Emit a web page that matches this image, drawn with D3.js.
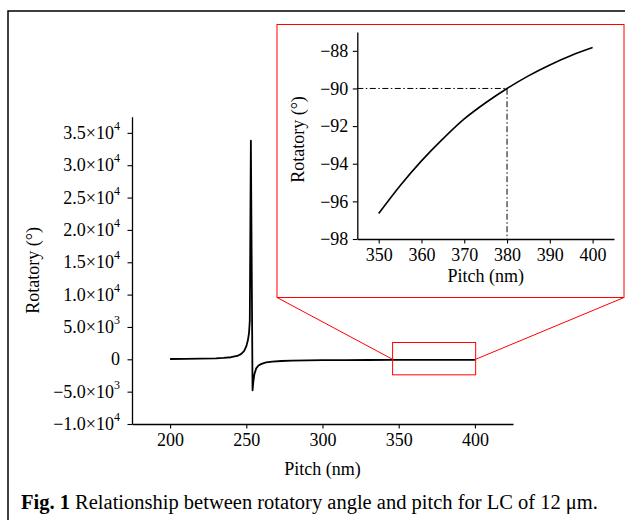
<!DOCTYPE html>
<html><head><meta charset="utf-8">
<script src="https://cdn.jsdelivr.net/npm/d3@7"></script>
<style>
html,body{margin:0;padding:0;background:#fff;}
svg{display:block;}
text{font-family:"Liberation Serif","Times New Roman",serif;fill:#000;}
</style></head>
<body>
<svg id="c" width="625" height="520"></svg>
<script>
// ---- data ----
const pitch = [200,210,220,230,235,240,244,246.5,248.5,250,251,251.8,252.3,253.0,254.1,254.6,255.3,256.5,258,260,263,267,273,280,290,300,315,330,345,350,360,370,380,390,400];
const rotatory = [45,60,90,150,210,320,520,800,1250,2000,2900,4100,6000,33800,-4800,-3500,-2300,-1400,-950,-700,-490,-360,-265,-210,-165,-140,-118,-105,-98.5,-96.6,-93.8,-91.6,-90.0,-88.7,-87.8];

const insetPitch = [350,355,360,365,370,375,380,385,390,395,400];
const insetRotatory = [-96.65,-95.17,-93.85,-92.68,-91.62,-90.76,-90.0,-89.33,-88.75,-88.25,-87.83];

const xTicks = [200,250,300,350,400];
const yTicks = [-10000,-5000,0,5000,10000,15000,20000,25000,30000,35000];
const yTickMant = ["\u22121.0\u00d710","\u22125.0\u00d710","0","5.0\u00d710","1.0\u00d710","1.5\u00d710","2.0\u00d710","2.5\u00d710","3.0\u00d710","3.5\u00d710"];
const yTickExp = ["4","3","","3","4","4","4","4","4","4"];

const insetXTicks = [350,360,370,380,390,400];
const insetYTicks = [-98,-96,-94,-92,-90,-88];

const zoomBox = {x0:346, x1:400.5, y0:-2400, y1:2600};
const markP = 380, markR = -90;

const xTitle = "Pitch (nm)";
const yTitle = "Rotatory (\u00b0)";
const captionBold = "Fig. 1";
const captionText = " Relationship between rotatory angle and pitch for LC of 12 \u03bcm.";

// ---- drawing ----
const svg = d3.select("#c");
const FS = 18;

// outer frame
svg.append("rect").attr("x",8).attr("y",11).attr("width",640).attr("height",540)
  .attr("fill","none").attr("stroke","#000").attr("stroke-width",1.5);

// main scales
const x = d3.scaleLinear().domain([175,425]).range([132,513]);
const y = d3.scaleLinear().domain([-10000,37500]).range([424,116.7]);

const gx = svg.append("g").attr("transform","translate(0,424)");
gx.call(d3.axisBottom(x).tickValues(d3.range(175,426,25).filter(v=>!xTicks.includes(v))).tickSize(3).tickSizeOuter(0).tickFormat(""));
gx.call(d3.axisBottom(x).tickValues(xTicks).tickSize(4.5).tickPadding(4.5).tickSizeOuter(0));
const gy = svg.append("g").attr("transform","translate(132,0)");
gy.call(d3.axisLeft(y).tickValues(d3.range(-10000,37501,2500).filter(v=>!yTicks.includes(v))).tickSize(3).tickSizeOuter(0).tickFormat(""));
gy.call(d3.axisLeft(y).tickValues(yTicks).tickSize(4.5).tickPadding(7.5).tickSizeOuter(0).tickFormat(""));

[gx,gy].forEach(g=>{
  g.selectAll(".domain").attr("stroke","#000").attr("stroke-width",1.3);
  g.selectAll(".tick line").attr("stroke","#000").attr("stroke-width",1.1);
  g.selectAll("text").attr("font-family","Liberation Serif").attr("font-size",FS).attr("fill","#000");
});

// y tick labels with superscripts
yTicks.forEach((v,i)=>{
  const t = svg.append("text").attr("x",120).attr("y",y(v)).attr("dy","0.33em")
    .attr("text-anchor","end").attr("font-size",FS);
  t.append("tspan").text(yTickMant[i]);
  if (yTickExp[i]) t.append("tspan").attr("font-size",12).attr("dy","-0.75em").text(yTickExp[i]);
});

// main curve
svg.append("path").datum(pitch.map((p,i)=>[p,rotatory[i]]))
  .attr("fill","none").attr("stroke","#000").attr("stroke-width",1.8).attr("stroke-linejoin","round")
  .attr("d", d3.line().x(d=>x(d[0])).y(d=>y(d[1])));

// titles
svg.append("text").attr("x",(x.range()[0]+x.range()[1])/2).attr("y",475).attr("text-anchor","middle").attr("font-size",18).text(xTitle);
svg.append("text").attr("transform",`translate(39,${(y.range()[0]+y.range()[1])/2}) rotate(-90)`).attr("text-anchor","middle").attr("font-size",18).text(yTitle);

// zoom box and connectors
const bx0=x(zoomBox.x0), bx1=x(zoomBox.x1), by0=y(zoomBox.y1), by1=y(zoomBox.y0);
svg.append("rect").attr("x",bx0).attr("y",by0).attr("width",bx1-bx0).attr("height",by1-by0)
  .attr("fill","none").attr("stroke","#f00").attr("stroke-width",1);
const inset = {x0:277, y0:24.5, x1:624, y1:297.5};
svg.append("line").attr("x1",inset.x0).attr("y1",inset.y1).attr("x2",bx0).attr("y2",y(0)).attr("stroke","#f00").attr("stroke-width",1);
svg.append("line").attr("x1",inset.x1).attr("y1",inset.y1).attr("x2",bx1).attr("y2",y(0)).attr("stroke","#f00").attr("stroke-width",1);
svg.append("rect").attr("x",inset.x0).attr("y",inset.y0).attr("width",inset.x1-inset.x0).attr("height",inset.y1-inset.y0)
  .attr("fill","#fff").attr("stroke","#f00").attr("stroke-width",1);

// inset
const ix = d3.scaleLinear().domain([345,405]).range([357.3,614]);
const iy = d3.scaleLinear().domain([-98,-87]).range([239,32]);
const igx = svg.append("g").attr("transform","translate(0,239)");
igx.call(d3.axisBottom(ix).tickValues(d3.range(345,406,10)).tickSize(3).tickSizeOuter(0).tickFormat(""));
igx.call(d3.axisBottom(ix).tickValues(insetXTicks).tickSize(4.5).tickPadding(4.5).tickSizeOuter(0));
const igy = svg.append("g").attr("transform","translate(357.3,0)");
igy.call(d3.axisLeft(iy).tickValues(d3.range(-97,-86,2)).tickSize(3).tickSizeOuter(0).tickFormat(""));
igy.call(d3.axisLeft(iy).tickValues(insetYTicks).tickSize(4.5).tickPadding(4.5).tickSizeOuter(0).tickFormat(d=>d<0?"\u2212"+Math.abs(d):d));
[igx,igy].forEach(g=>{
  g.selectAll(".domain").attr("stroke","#000").attr("stroke-width",1.3);
  g.selectAll(".tick line").attr("stroke","#000").attr("stroke-width",1.1);
  g.selectAll("text").attr("font-family","Liberation Serif").attr("font-size",FS).attr("fill","#000");
});

// dash-dot guide lines
svg.append("path").attr("d",`M${ix(345)},${iy(markR)}H${ix(markP)}V${iy(-98)}`)
  .attr("fill","none").attr("stroke","#000").attr("stroke-width",1).attr("stroke-dasharray","6,2.5,1.5,2.5");

svg.append("path").datum(insetPitch.map((p,i)=>[p,insetRotatory[i]]))
  .attr("fill","none").attr("stroke","#000").attr("stroke-width",1.6)
  .attr("d", d3.line().curve(d3.curveCatmullRom).x(d=>ix(d[0])).y(d=>iy(d[1])));

svg.append("text").attr("x",(ix.range()[0]+ix.range()[1])/2).attr("y",281.5).attr("text-anchor","middle").attr("font-size",18).text(xTitle);
svg.append("text").attr("transform",`translate(303.5,139.5) rotate(-90)`).attr("text-anchor","middle").attr("font-size",18).text(yTitle);

// caption
const cap = svg.append("text").attr("x",21).attr("y",509).attr("font-size",20.5);
cap.append("tspan").attr("font-weight","bold").text(captionBold);
cap.append("tspan").text(captionText);
</script>
</body></html>
